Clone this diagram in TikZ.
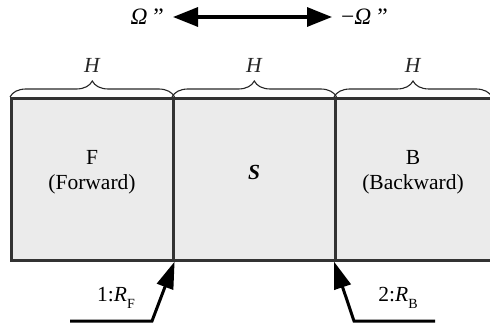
\documentclass[tikz,border=0pt]{standalone}
\usepackage{fontspec}
\setmainfont{Liberation Serif}
\usetikzlibrary{arrows.meta,decorations.pathreplacing}
\begin{document}
\begin{tikzpicture}[x=1pt,y=-1pt,
  every node/.style={font=\fontsize{21.5}{25}\selectfont, inner sep=0pt},
  omega/.style={font=\fontsize{23.5}{26}\selectfont},
  cell/.style={draw=black!80, line width=2.6pt, fill=black!8, minimum height=162pt, anchor=north west},
  hbrace/.style={decorate, decoration={brace, amplitude=16pt}, line width=1.1pt, black!85},
  bigarrow/.style={line width=3pt, -{Triangle[length=27pt,width=17pt]}},
  toparrow/.style={line width=3.2pt, {Triangle[length=25pt,width=19pt]}-{Triangle[length=25pt,width=19pt]}}
]
\useasboundingbox (0,0) rectangle (490,326);
% cells
\node[cell, minimum width=162pt] (F) at (10,97) {};
\node[cell, minimum width=162pt] (S) at (172,97) {};
\node[cell, minimum width=160pt] (B) at (334,97) {};
% cell texts
\node[align=center] (Ft) at (92,172) {F\\(Forward)};
\node (St) at (254,172) {\textbf{\textit{S}}};
\node[align=center] (Bt) at (413,172) {B\\(Backward)};
% braces
\draw[hbrace] (F.north west) -- (F.north east) node[midway, yshift=32pt] (H1) {\textit{H}};
\draw[hbrace] (S.north west) -- (S.north east) node[midway, yshift=32pt] (H2) {\textit{H}};
\draw[hbrace] (B.north west) -- (492,97) node[midway, yshift=32pt] (H3) {\textit{H}};
% top arrow
\node[omega, anchor=east] (O1) at (164,17) {\textit{Ω} \symbol{34}};
\node[omega, anchor=west] (O2) at (341,17) {−\textit{Ω} \symbol{34}};
\draw[toparrow, shorten <=9pt, shorten >=9pt] (O1.east) -- (O2.west);
% bottom arrows
\coordinate (a1) at (70,321);
\coordinate (a2) at (152,321);
\coordinate (b1) at (435,321);
\coordinate (b2) at (354,321);
\draw[bigarrow] (a1) -- (a2) -- (F.south east);
\draw[bigarrow] (b1) -- (b2) -- (B.south west);
\node (RF) at (116,298) {1:\textit{R}\raisebox{-0.3em}{\fontsize{14}{14}\selectfont F}};
\node (RB) at (398,298) {2:\textit{R}\raisebox{-0.3em}{\fontsize{14}{14}\selectfont B}};
\end{tikzpicture}
\end{document}
